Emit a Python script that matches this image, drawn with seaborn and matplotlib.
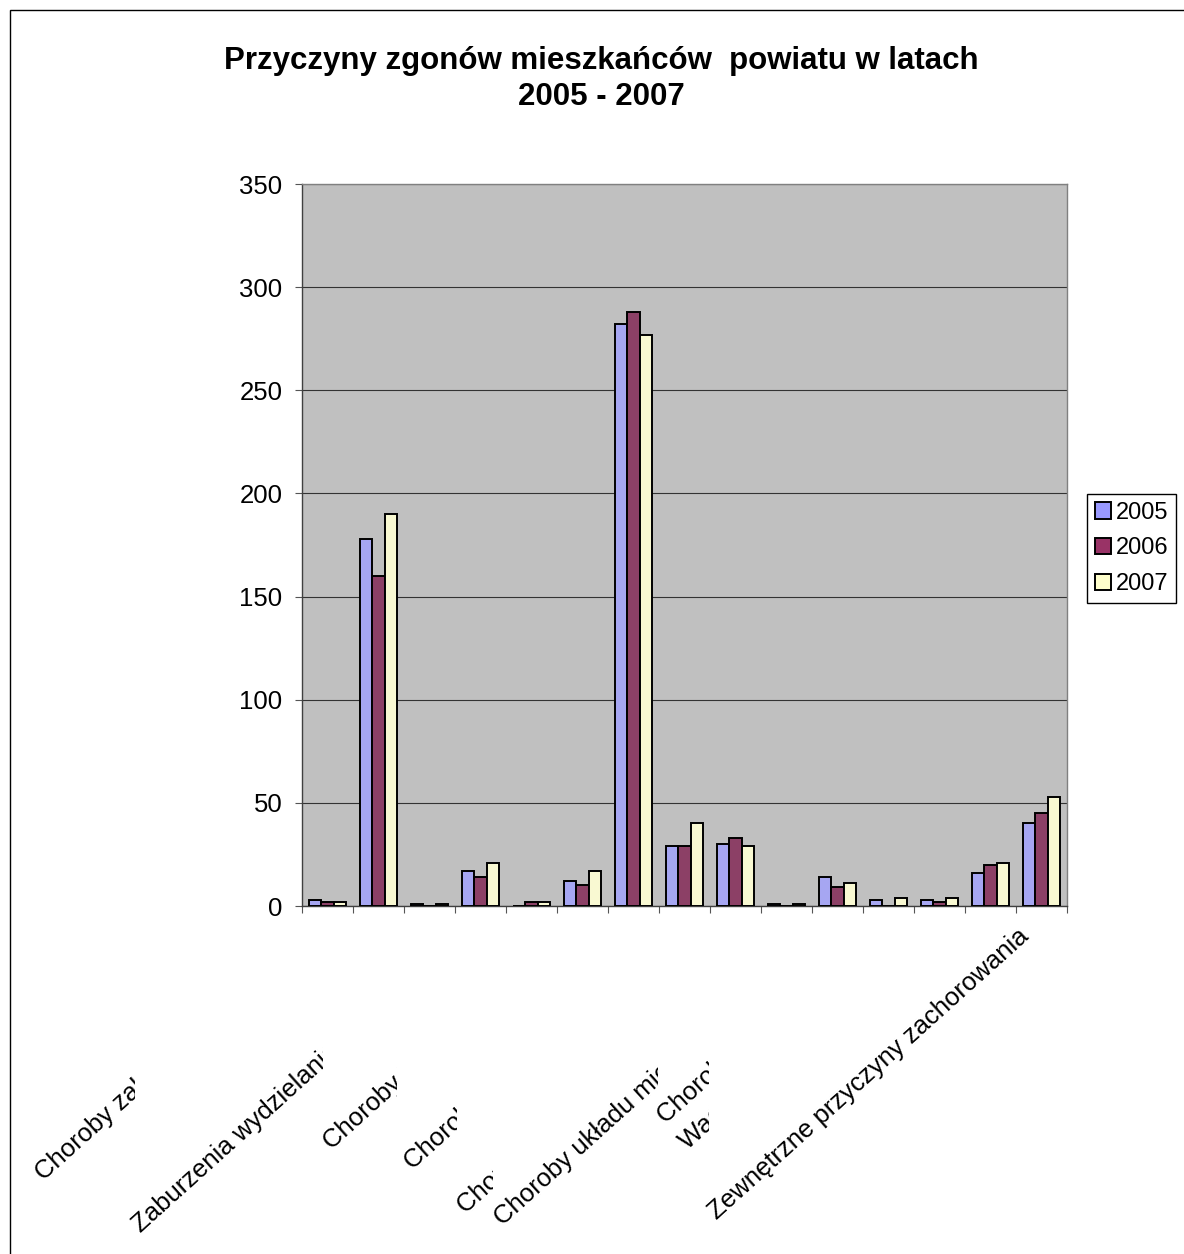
import numpy as np
import pandas as pd
import matplotlib
matplotlib.use('Agg')
import matplotlib.pyplot as plt
from matplotlib.patches import Rectangle, Patch
from matplotlib.transforms import Bbox
import seaborn as sns

# dane
kategorie = ['Choroby zakaźne i pasożytnicze', 'Nowotwory', 'Choroby krwi',
             'Zaburzenia wydzielania wewnętrznego', 'Zaburzenia psychiczne',
             'Choroby układu nerwowego', 'Choroby układu krążenia',
             'Choroby układu oddechowego', 'Choroby układu trawiennego',
             'Choroby skóry', 'Choroby układu mięśniowo-szkieletowego',
             'Choroby układu moczowo-płciowego', 'Wady rozwojowe',
             'Objawy i stany niedokładnie określone',
             'Zewnętrzne przyczyny zachorowania']
lata = ['2005', '2006', '2007']
v2005 = [3, 178, 1, 17, 0, 12, 282, 29, 30, 1, 14, 3, 3, 16, 40]
v2006 = [2, 160, 0, 14, 2, 10, 288, 29, 33, 0, 9, 0, 2, 20, 45]
v2007 = [2, 190, 1, 21, 2, 17, 277, 40, 29, 1, 11, 4, 4, 21, 53]
kolory = ['#9999FF', '#993366', '#FFFFCC']
y_ticks = [0, 50, 100, 150, 200, 250, 300, 350]

# etykiety osi X (w oryginale ucięte przez Excela)
etykiety = ['Choroby zakaźne i pasożytnicze', 'Zaburzenia wydzielania wewnętrznego',
            'Choroby krwi', 'Choroby układu nerwowego', 'Choroby układu oddechowego',
            'Choroby układu mięśniowo-szkieletowego', 'Choroby układu moczowo-płciowego',
            'Wady rozwojowe', 'Zewnętrzne przyczyny zachorowania']
# (start x, start y, prawa krawędź przycięcia) w pikselach obrazu
etykiety_poz = [(44, 1181, 135), (141, 1233, 323), (332, 1150, 397), (413, 1170, 457),
                (466, 1214, 493), (503, 1226, 658), (666, 1124, 709), (688, 1150, 709),
                (717, 1220, 2000)]

W, H = 1184, 1254

df = pd.DataFrame({'Kategoria': kategorie * 3,
                   'Rok': [r for r in lata for _ in kategorie],
                   'Liczba': v2005 + v2006 + v2007})

sns.set_style('white')
plt.rcParams['font.family'] = ['Liberation Sans', 'DejaVu Sans']
plt.rcParams['text.color'] = 'black'
plt.rcParams['xtick.color'] = 'black'
plt.rcParams['ytick.color'] = 'black'
plt.rcParams['axes.labelcolor'] = 'black'

fig = plt.figure(figsize=(W / 100, H / 100), dpi=100)
fig.patch.set_facecolor('white')

ax = fig.add_axes([302 / W, 1 - 906 / H, (1067 - 302) / W, (906 - 184) / H])
ax.set_facecolor('#C0C0C0')
sns.barplot(data=df, x='Kategoria', y='Liczba', hue='Rok', palette=kolory,
            width=0.72, edgecolor='black', linewidth=1.4, ax=ax, legend=False,
            errorbar=None, zorder=3)

ax.set_ylim(0, 350)
ax.set_xlim(-0.5, len(kategorie) - 0.5)
ax.set_yticks(y_ticks)
ax.set_yticklabels([str(t) for t in y_ticks], fontsize=18.5, color='black')
ax.set_xticks(np.arange(-0.5, len(kategorie), 1))
ax.set_xticklabels([])
ax.set_xlabel('')
ax.set_ylabel('')
ax.yaxis.grid(True, color='#333333', linewidth=0.8, zorder=1)
ax.set_axisbelow(True)
ax.tick_params(axis='y', direction='out', length=5, width=0.8, color='#555555', pad=9, left=True)
ax.tick_params(axis='x', direction='out', length=5, width=0.8, color='#555555', bottom=True)
for s in ['left', 'bottom']:
    ax.spines[s].set_color('#404040')
    ax.spines[s].set_linewidth(1.0)
for s in ['top', 'right']:
    ax.spines[s].set_color('#808080')
    ax.spines[s].set_linewidth(1.0)

# etykiety kategorii, obrócone i przycięte jak w Excelu
for txt, (x0, y0, xc) in zip(etykiety, etykiety_poz):
    t = fig.text(x0 / W, 1 - y0 / H, txt, fontsize=18.5, rotation=42, color='black',
                 rotation_mode='anchor', ha='left', va='baseline')
    t.set_clip_box(Bbox.from_extents(0, 0, xc, H))
    t.set_clip_on(True)

fig.text(0.508, 1 - 79 / H, 'Przyczyny zgonów mieszkańców  powiatu w latach\n2005 - 2007',
         ha='center', va='center', fontsize=22.5, fontweight='bold', linespacing=1.28,
         color='black')

uchwyty = [Patch(facecolor=c, edgecolor='black', linewidth=1.4) for c in kolory]
leg = fig.legend(uchwyty, lata, loc='upper left', bbox_to_anchor=(1087 / W, 1 - 494 / H),
                 fontsize=17, frameon=True, fancybox=False, framealpha=1,
                 edgecolor='black', handlelength=0.7, handleheight=0.7,
                 handletextpad=0.2, labelspacing=0.58, borderpad=0.33, borderaxespad=0)
leg.get_frame().set_linewidth(1.0)

fig.add_artist(Rectangle((10 / W, -0.05), 1.2, 1.05 - 10 / H, transform=fig.transFigure,
                         fill=False, edgecolor='black', linewidth=1.0))

fig.savefig('out.png', dpi=100)
